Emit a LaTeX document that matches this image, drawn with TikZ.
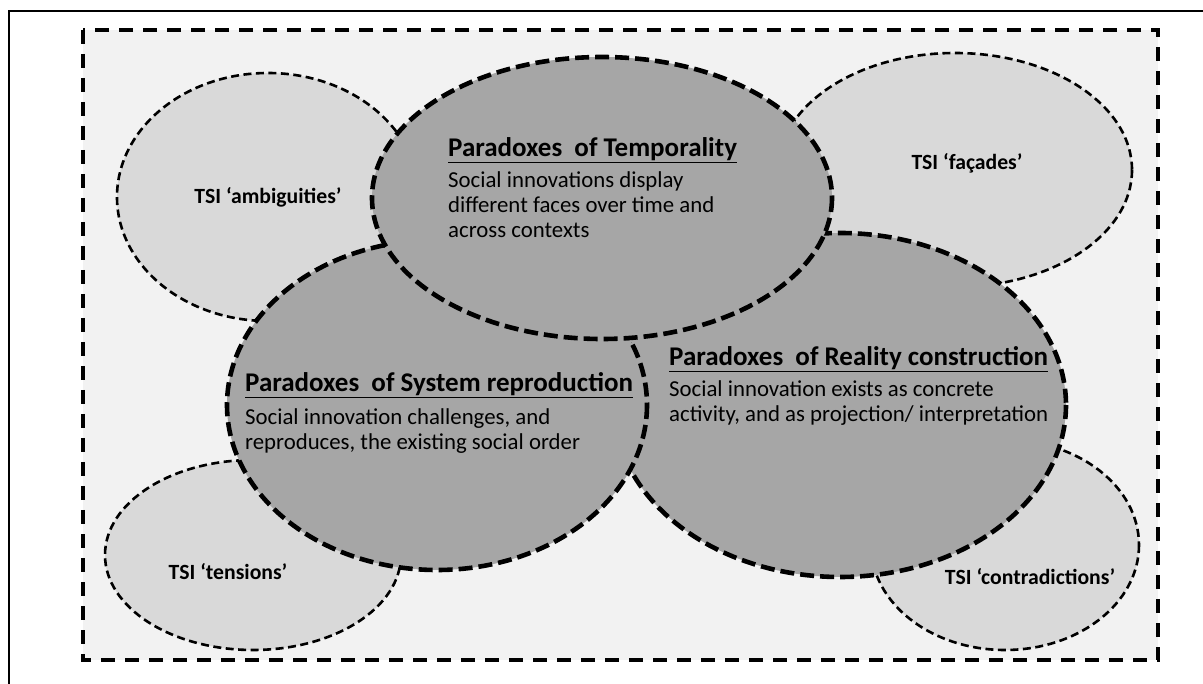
\documentclass[tikz,border=0pt]{standalone}
\usepackage{fontspec}
\setmainfont{Carlito}
\usetikzlibrary{positioning}
\definecolor{boxgrey}{HTML}{F2F2F2}
\definecolor{tsigrey}{HTML}{D9D9D9}
\definecolor{paragrey}{HTML}{A6A6A6}

\begin{document}
\begin{tikzpicture}[x=1pt, y=-1pt,
  tsiarea/.style={fill=tsigrey, line width=2.6pt, dash pattern=on 8pt off 4.5pt},
  paraarea/.style={fill=paragrey, line width=4.6pt, dash pattern=on 14pt off 6pt},
  tsilabel/.style={font=\bfseries\fontsize{21.7}{26}\selectfont, inner sep=0pt},
  parahead/.style={font=\bfseries\fontsize{27}{30}\selectfont, anchor=base west, inner sep=0pt},
  parabody/.style={font=\fontsize{22.8}{25}\selectfont, align=left, anchor=base west, inner sep=0pt}]
  \useasboundingbox (0,0) rectangle (1203,684);
  \draw[line width=1.3pt] (9,684) -- (9,11) -- (1203,11);
  \draw[fill=boxgrey, line width=4pt, dash pattern=on 14pt off 10pt] (83,30) rectangle (1158,660);

  % TSI outer ellipses
  \draw[tsiarea] (268,197) ellipse [x radius=151, y radius=124];
  \draw[tsiarea] (955,170) ellipse [x radius=177, y radius=117];
  \draw[tsiarea] (253,555) ellipse [x radius=148, y radius=95];
  \draw[tsiarea] (1005,545) ellipse [x radius=134, y radius=105];
  \node[tsilabel] (ambig) at (268,197) {TSI ‘ambiguities’};
  \node[tsilabel] (facade) at (967,163) {TSI ‘façades’};
  \node[tsilabel] (tension) at (228,572) {TSI ‘tensions’};
  \node[tsilabel] (contra) at (1030,577) {TSI ‘contradictions’};

  % paradoxes
  \draw[paraarea] (840,405) ellipse [x radius=226, y radius=172];
  \draw[paraarea] (437,405) ellipse [x radius=210, y radius=165];
  \draw[paraarea] (602,198) ellipse [x radius=230, y radius=141];

  % body nodes sit on the baseline of their last line
  \node[parahead] (tempHead) at (448,157) {\underline{Paradoxes\ \ of Temporality}};
  \node[parabody] (tempBody) at (448,238)
    {Social innovations display\\different faces over time and\\across contexts};

  \node[parahead] (sysHead) at (245,392) {\underline{Paradoxes\ \ of System reproduction}};
  \node[parabody] (sysBody) at (245,450)
    {Social innovation challenges, and\\reproduces, the existing social order};

  \node[parahead] (realHead) at (669,366) {\underline{Paradoxes\ \ of Reality construction}};
  \node[parabody] (realBody) at (669,422)
    {Social innovation exists as concrete\\activity, and as projection/ interpretation};
\end{tikzpicture}
\end{document}
